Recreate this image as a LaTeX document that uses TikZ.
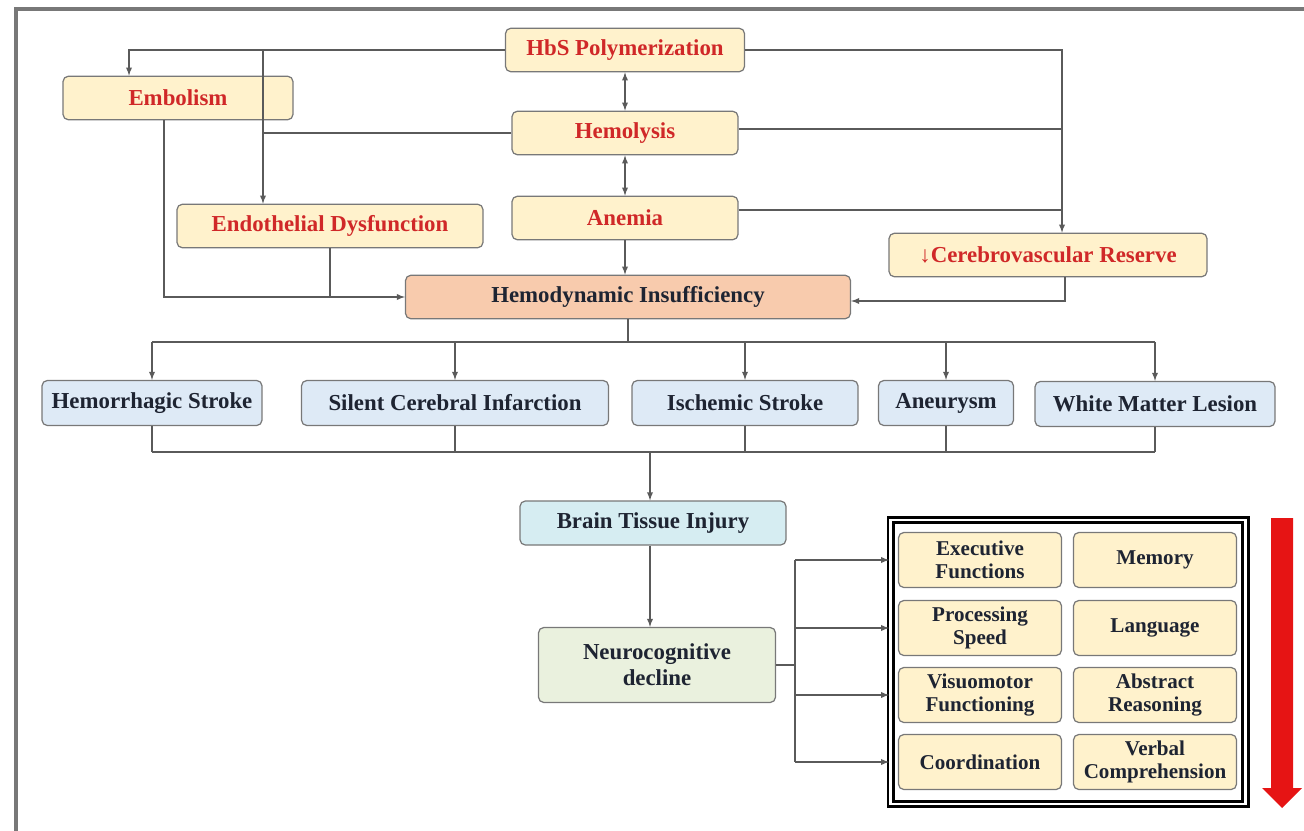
\documentclass[tikz,border=0pt]{standalone}
\usepackage{fontspec}
\setmainfont{Liberation Serif}
\usepackage{tikz}
\usetikzlibrary{arrows}
\definecolor{dred}{RGB}{208,40,40}
\definecolor{ddark}{RGB}{30,36,50}
\definecolor{lgray}{RGB}{90,90,90}
\definecolor{bgray}{RGB}{120,120,120}
\definecolor{cream}{RGB}{255,242,204}
\definecolor{lblue}{RGB}{222,234,246}
\definecolor{lcyan}{RGB}{214,237,242}
\definecolor{lgreen}{RGB}{234,241,222}
\definecolor{peach}{RGB}{248,203,173}
\definecolor{bigred}{RGB}{230,20,20}

\begin{document}
\begin{tikzpicture}[x=0.02cm,y=-0.02cm,
    box/.style={draw=bgray,rounded corners=3pt,line width=0.7pt,font=\fontsize{13}{15}\selectfont\bfseries,inner sep=2pt},
    causebox/.style={box,fill=cream,text=dred,minimum height=0.87cm},
    lesionbox/.style={box,fill=lblue,text=ddark,minimum height=0.9cm},
    domainbox/.style={box,fill=cream,text=ddark,minimum width=3.26cm,minimum height=1.1cm,align=center,font=\fontsize{12}{13}\selectfont\bfseries},
    line/.style={lgray,line width=0.6pt},
    arr/.style={line,-latex},
    dbl/.style={line,latex-latex}]
\useasboundingbox (0,0) rectangle (1304,831);
% frame
\draw[bgray,line width=2pt] (16,831) -- (16,9) -- (1304,9);

% causes
\node[causebox,minimum width=4.78cm] (hbs) at (625,50) {HbS Polymerization};
\node[causebox,minimum width=4.6cm] (embol) at (178,98) {Embolism};
\node[causebox,minimum width=4.52cm] (hemo) at (625,133) {Hemolysis};
\node[causebox,minimum width=6.12cm] (endo) at (330,226) {Endothelial Dysfunction};
\node[causebox,minimum width=4.52cm] (anem) at (625,218) {Anemia};
\node[causebox,minimum width=6.36cm] (cvr) at (1048,255) {\textcolor{dred}{↓}Cerebrovascular Reserve};
\node[box,fill=peach,text=ddark,minimum width=8.9cm,minimum height=0.87cm] (hdi) at (628,297) {Hemodynamic Insufficiency};

% lesions
\node[lesionbox,minimum width=4.4cm] (hs) at (152,403) {Hemorrhagic Stroke};
\node[lesionbox,minimum width=6.14cm] (sci) at (455,403) {Silent Cerebral Infarction};
\node[lesionbox,minimum width=4.52cm] (is) at (745,403) {Ischemic Stroke};
\node[lesionbox,minimum width=2.7cm] (an) at (946,403) {Aneurysm};
\node[lesionbox,minimum width=4.8cm] (wml) at (1155,404) {White Matter Lesion};

\node[box,fill=lcyan,text=ddark,minimum width=5.32cm,minimum height=0.88cm] (bti) at (653,523) {Brain Tissue Injury};
\node[box,fill=lgreen,text=ddark,minimum width=4.74cm,minimum height=1.5cm,align=center] (neuro) at (657,665) {Neurocognitive\\decline};

% domains
\node[draw=black,line width=1.6pt,double=white,double distance=1.4pt,minimum width=7.1cm,minimum height=5.68cm] (outer) at (1068,662) {};
\node[domainbox] (ef) at (980,560) {Executive\\Functions};
\node[domainbox] (mem) at (1155,560) {Memory};
\node[domainbox] (ps) at (980,628) {Processing\\Speed};
\node[domainbox] (lang) at (1155,628) {Language};
\node[domainbox] (vf) at (980,695) {Visuomotor\\Functioning};
\node[domainbox] (ar) at (1155,695) {Abstract\\Reasoning};
\node[domainbox] (co) at (980,762) {Coordination};
\node[domainbox] (vc) at (1155,762) {Verbal\\Comprehension};

% red arrow
\fill[bigred] (1271,518) -- (1293,518) -- (1293,788) -- (1302,788) -- (1282,808) -- (1262,788) -- (1271,788) -- cycle;

% junctions
\coordinate (jl) at (263,50);
\coordinate (jr) at (1062,50);
\coordinate (rt) at (628,342);
\coordinate (rb) at (650,452);
\coordinate (nb) at (795,665);

% upper connectors
\draw[arr] (hbs.west) -| ([xshift=-0.98cm]embol.north);
\draw[arr] (jl) -- (jl |- endo.north);
\draw[line] (hemo.west) -- (hemo.west -| jl);
\draw[arr] (hbs.east) -- (jr) -- (jr |- cvr.north);
\draw[line] ([yshift=0.08cm]hemo.east) -- ([yshift=0.08cm]hemo.east -| jr);
\draw[line] ([yshift=0.16cm]anem.east) -- ([yshift=0.16cm]anem.east -| jr);
\draw[dbl] (hbs) -- (hemo);
\draw[dbl] (hemo) -- (anem);
\draw[arr] (anem.south) -- (anem.south |- hdi.north);
\draw[arr] ([xshift=-0.28cm]embol.south) |- (hdi.west);
\draw[line] (endo.south) -- (endo.south |- hdi.west);
\draw[arr] ([xshift=0.34cm]cvr.south) |- ([yshift=-0.08cm]hdi.east);

% lesion connectors
\draw[line] (hdi.south) -- (rt);
\draw[line] (rt -| hs.north) -- (rt -| wml.north);
\foreach \n in {hs,sci,is,an,wml} {
    \draw[arr] (rt -| \n.north) -- (\n.north);
    \draw[line] (\n.south) -- (rb -| \n.south);
}
\draw[line] (rb -| hs.south) -- (rb -| wml.south);
\draw[arr] (rb) -- (rb |- bti.north);
\draw[arr] (bti.south -| rb) -- (neuro.north -| rb);

% domain connectors
\draw[line] (neuro.east) -- (nb);
\draw[line] (nb |- ef.west) -- (nb |- co.west);
\foreach \n in {ef,ps,vf,co} {
    \draw[arr] (nb |- \n.west) -- (\n.west -| outer.west);
}
\end{tikzpicture}
\end{document}
